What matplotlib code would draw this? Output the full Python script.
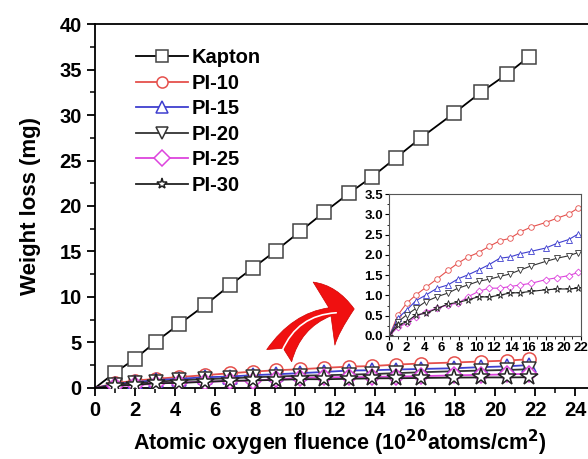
import matplotlib
matplotlib.use('Agg')
import matplotlib.pyplot as plt
import numpy as np
from matplotlib.patches import FancyArrowPatch
from matplotlib.ticker import MultipleLocator

plt.rcParams['font.family'] = ['Liberation Sans', 'DejaVu Sans']
plt.rcParams['font.weight'] = 'bold'
plt.rcParams['mathtext.default'] = 'bf'

# fluence (1e20 atoms/cm2)
fluence = [0, 1.0, 2.0, 3.05, 4.2, 5.5, 6.75, 7.9, 9.05, 10.25, 11.45,
           12.7, 13.85, 15.05, 16.3, 17.95, 19.3, 20.6, 21.7]

kapton = [0, 1.7, 3.2, 5.1, 7.0, 9.1, 11.3, 13.2, 15.1, 17.2, 19.3,
          21.4, 23.2, 25.3, 27.5, 30.2, 32.5, 34.5, 36.4]
pi10 = [0, 0.52, 0.81, 1.01, 1.20, 1.41, 1.62, 1.80, 1.95, 2.06, 2.21,
        2.35, 2.41, 2.57, 2.69, 2.80, 2.91, 3.01, 3.16]
pi15 = [0, 0.44, 0.64, 0.87, 1.01, 1.18, 1.26, 1.41, 1.51, 1.63, 1.76,
        1.92, 1.95, 2.03, 2.09, 2.17, 2.29, 2.38, 2.52]
pi20 = [0, 0.35, 0.52, 0.68, 0.85, 0.97, 1.06, 1.18, 1.26, 1.35, 1.40,
        1.47, 1.53, 1.63, 1.73, 1.84, 1.92, 1.98, 2.06]
pi25 = [0, 0.22, 0.31, 0.48, 0.60, 0.68, 0.77, 0.81, 0.97, 1.10, 1.18,
        1.18, 1.22, 1.26, 1.30, 1.39, 1.44, 1.49, 1.57]
pi30 = [0, 0.27, 0.35, 0.52, 0.56, 0.68, 0.79, 0.83, 0.89, 0.97, 0.96,
        1.01, 1.06, 1.07, 1.10, 1.14, 1.16, 1.16, 1.18]

series = [
    ('Kapton', kapton, 'black', 's'),
    ('PI-10', pi10, '#e5504c', 'o'),
    ('PI-15', pi15, '#3f3fcf', '^'),
    ('PI-20', pi20, '#333333', 'v'),
    ('PI-25', pi25, '#dd44dd', 'D'),
    ('PI-30', pi30, '#222222', '*'),
]

fig = plt.figure(figsize=(5.88, 4.59), dpi=100)
ax = fig.add_axes([0.1616, 0.1547, 0.8503, 0.7930])

for name, vals, col, mk in series:
    ms = 9.5 if mk != '*' else 13
    if mk == 'D':
        ms = 8
    ax.plot(fluence[1:], vals[1:], color=col, lw=1.3, marker=mk, ms=ms,
            mfc='white', mec=col if col != 'black' else '#444444', mew=1.1,
            label=name, zorder=3)
    ax.plot(fluence[:2], vals[:2], color=col, lw=1.3, zorder=2)

ax.set_xlim(0, 25)
ax.set_ylim(0, 40)
ax.xaxis.set_major_locator(MultipleLocator(2))
ax.xaxis.set_minor_locator(MultipleLocator(1))
ax.yaxis.set_major_locator(MultipleLocator(5))
ax.yaxis.set_minor_locator(MultipleLocator(2.5))
ax.tick_params(which='major', direction='out', length=6, width=1.3, labelsize=14.5)
ax.tick_params(which='minor', direction='out', length=3.5, width=1.1)
for sp in ax.spines.values():
    sp.set_linewidth(1.3)
ax.set_xlabel('Atomic oxygen fluence (10$^{20}$atoms/cm$^{2}$)',
              fontsize=15.5, fontweight='bold')
ax.xaxis.set_label_coords(0.49, -0.108)
ax.set_ylabel('Weight loss (mg)', fontsize=16, fontweight='bold', labelpad=13)

leg = ax.legend(loc='upper left', bbox_to_anchor=(0.065, 0.955), frameon=False,
                fontsize=14.5, handlelength=2.6, labelspacing=0.32,
                handletextpad=0.2, borderaxespad=0.0)
for h in leg.legend_handles:
    h.set_markersize(8)

# curved arrow pointing to the inset
arrow = FancyArrowPatch((0.366, 0.082), (0.524, 0.217), transform=ax.transAxes,
                        connectionstyle='arc3,rad=-0.33',
                        arrowstyle='fancy,head_width=2.4,head_length=1.1,tail_width=1.0',
                        mutation_scale=20, fc='#f01010', ec='#d00000', lw=0.5, zorder=5)
ax.add_patch(arrow)
stripe = FancyArrowPatch((0.372, 0.095), (0.488, 0.207), transform=ax.transAxes,
                         connectionstyle='arc3,rad=-0.33', arrowstyle='-',
                         color='white', lw=1.2, zorder=6)
ax.add_patch(stripe)

# inset
ins = fig.add_axes([0.662, 0.268, 0.326, 0.309])
for name, vals, col, mk in series[1:]:
    ms = 4 if mk != '*' else 5.5
    if mk == 'D':
        ms = 3.5
    ins.plot(fluence, vals, color=col, lw=0.8, marker=mk, ms=ms,
             mfc='white', mec=col, mew=0.6)
ins.set_xlim(0, 22)
ins.set_ylim(0, 3.5)
ins.xaxis.set_major_locator(MultipleLocator(2))
ins.xaxis.set_minor_locator(MultipleLocator(1))
ins.yaxis.set_major_locator(MultipleLocator(0.5))
ins.yaxis.set_minor_locator(MultipleLocator(0.25))
ins.tick_params(which='major', direction='out', length=3, width=0.8, labelsize=9.5, pad=1.5)
ins.tick_params(which='minor', direction='out', length=1.8, width=0.6)
for sp in ins.spines.values():
    sp.set_linewidth(0.8)
    sp.set_color('#555555')

fig.savefig('out.png', dpi=100)
